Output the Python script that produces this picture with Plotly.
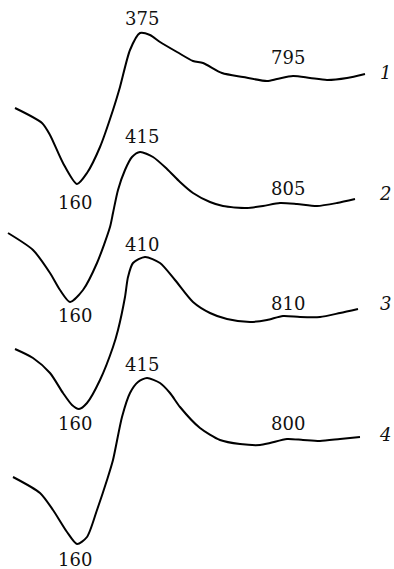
import plotly.graph_objects as go

# Four DTA-like curves (x in arbitrary units, signal in arbitrary units)
x1 = [15, 42, 50, 63, 77, 87, 100, 113, 120, 130, 140, 150, 160, 177, 193, 203, 222, 243, 267, 277, 293, 310, 327, 347, 365]
s1 = [1, -14, -26, -54, -75, -64, -38, -1, 22, 59, 76, 74, 67, 57, 48, 46, 36, 32, 28, 30, 33, 31, 29, 31, 35]

x2 = [8, 33, 50, 60, 70, 83, 97, 110, 113, 118, 125, 132, 140, 153, 167, 180, 193, 210, 223, 247, 263, 280, 297, 317, 337, 355]
s2 = [-4, -21, -44, -61, -73, -61, -34, 2, 16, 39, 59, 72, 77, 72, 60, 47, 36, 27, 23, 21, 23, 26, 25, 23, 26, 30]

x3 = [15, 33, 50, 63, 72, 79, 87, 100, 113, 118, 125, 128, 133, 145, 160, 175, 193, 210, 227, 250, 267, 283, 300, 320, 340, 358]
s3 = [-10, -19, -34, -54, -66, -70, -64, -41, -8, 9, 42, 62, 76, 82, 76, 59, 37, 26, 20, 17, 19, 23, 22, 22, 26, 30]

x4 = [13, 40, 53, 67, 77, 87, 97, 107, 113, 122, 130, 138, 147, 160, 170, 180, 200, 220, 240, 260, 270, 287, 303, 320, 340, 360]
s4 = [-18, -34, -51, -73, -85, -78, -51, -21, -1, 42, 66, 77, 81, 76, 66, 52, 31, 19, 15, 14, 16, 20, 19, 18, 20, 22]

curve_names = ["1", "2", "3", "4"]
min_labels = ["160", "160", "160", "160"]
peak_labels = ["375", "415", "410", "415"]
high_labels = ["795", "805", "810", "800"]

# layout / style (vertical stacking of curves and label placement)
offsets = [460, 340, 230, 110]
min_dy = [-18, -13, -14, -15]
peak_dy = [15, 16, 13, 14]
high_dy = [52, 41, 36, 36]
name_dy = [2, 6, 6, 3]

xs = [x1, x2, x3, x4]
ss = [s1, s2, s3, s4]

fig = go.Figure()
font = dict(family="DejaVu Serif", size=18, color="#111")
ann = []
for i in range(4):
    off = offsets[i]
    y = [v + off for v in ss[i]]
    fig.add_trace(go.Scatter(x=xs[i], y=y, mode="lines",
                             line=dict(color="black", width=2, shape="spline", smoothing=0.7),
                             showlegend=False, hoverinfo="skip"))
    imin = ss[i].index(min(ss[i]))
    imax = ss[i].index(max(ss[i]))
    ann.append(dict(x=75, y=ss[i][imin] + off + min_dy[i], text=min_labels[i],
                    showarrow=False, font=font))
    ann.append(dict(x=142, y=ss[i][imax] + off + peak_dy[i], text=peak_labels[i],
                    showarrow=False, font=font))
    ann.append(dict(x=288, y=off + high_dy[i], text=high_labels[i],
                    showarrow=False, font=font))
    ann.append(dict(x=385, y=ss[i][-1] + off + name_dy[i], text="<i>" + curve_names[i] + "</i>",
                    showarrow=False, font=font))

fig.update_layout(
    width=394, height=569,
    margin=dict(l=0, r=0, t=0, b=0),
    paper_bgcolor="white", plot_bgcolor="white",
    xaxis=dict(range=[0, 394], visible=False),
    yaxis=dict(range=[0, 569], visible=False),
    annotations=ann,
)
fig.write_html("out.html", config={"displayModeBar": False, "staticPlot": True},
               post_script="document.body.style.margin='0';document.body.style.overflow='hidden';")
